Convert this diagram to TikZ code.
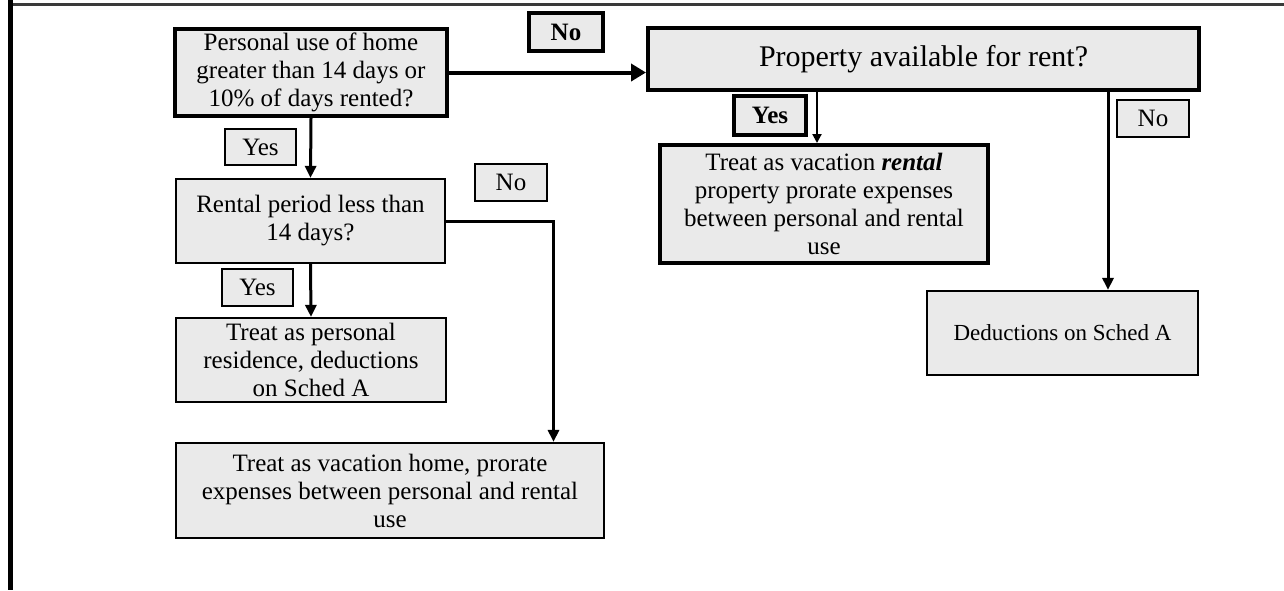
\documentclass[tikz,border=0pt]{standalone}
\usepackage{fontspec}
\setmainfont{Liberation Serif}
\usepackage{xcolor}
\usetikzlibrary{arrows.meta}

\definecolor{boxgray}{HTML}{EAEAEA}
\definecolor{framegray}{HTML}{3A3A3A}

\tikzset{
    box/.style={draw=black, fill=boxgray, line width=0.85pt, inner sep=0pt,
        align=center, font=\fontsize{12.5}{14}\selectfont},
    keybox/.style={box, line width=2pt},
    keytag/.style={keybox, font=\fontsize{12.5}{14}\selectfont\bfseries},
    conn/.style={line width=1.5pt, -{Triangle[length=6pt,width=5.5pt]}},
}

\begin{document}
\begin{tikzpicture}[x=0.5pt, y=-0.5pt]
    \useasboundingbox (0,0) rectangle (1284,590);
    \draw[framegray, line width=1.5pt] (8,4) -- (1284,4);
    \draw[black, line width=2.25pt] (10.3,0) -- (10.3,590);

    \node[keybox, minimum width=136pt, minimum height=43.5pt] (use) at (311,72.5)
        {Personal use of home\\greater than 14 days or\\10\% of days rented?};
    \node[keytag, minimum width=37pt, minimum height=19pt] (noUse) at (566,32) {No};
    \node[keybox, minimum width=275.5pt, minimum height=31pt,
        font=\fontsize{15}{16}\selectfont] (avail) at (923.5,59) {Property available for rent?};
    \node[keytag, minimum width=36pt, minimum height=19.5pt] (yesAvail) at (770,115.5) {Yes};
    \node[keybox, minimum width=164pt, minimum height=59pt] (rental) at (824,204)
        {Treat as vacation \textbf{\textit{rental}}\\property prorate expenses\\between personal and rental\\use};
    \node[box, minimum width=36.25pt, minimum height=18.75pt] (noAvail) at (1153,118.5) {No};
    \node[box, minimum width=135.75pt, minimum height=42.25pt,
        font=\fontsize{11.5}{13}\selectfont] (schedA) at (1062.5,333) {Deductions on Sched A};

    \node[box, minimum width=35.75pt, minimum height=18.25pt] (yesUse) at (260.5,147) {Yes};
    \node[box, minimum width=134.75pt, minimum height=42.25pt] (period) at (310.5,221)
        {Rental period less than\\14 days?};
    \node[box, minimum width=36.25pt, minimum height=18.75pt] (noPeriod) at (511,182.5) {No};
    \node[box, minimum width=35.75pt, minimum height=18.75pt] (yesPeriod) at (257.5,287.5) {Yes};
    \node[box, minimum width=135.25pt, minimum height=42.25pt] (resid) at (311,360)
        {Treat as personal\\residence, deductions\\on Sched A};
    \node[box, minimum width=214.25pt, minimum height=47.75pt] (vhome) at (390,490.5)
        {Treat as vacation home, prorate\\expenses between personal and rental\\use};

    \coordinate (rentalIn) at ([xshift=-3.5pt]rental.north);
    \coordinate (schedIn) at ([xshift=22.75pt]schedA.north);
    \coordinate (vhomeIn) at ([xshift=-25.8pt]vhome.north east);

    \draw[line width=2pt, -{Triangle[length=7.5pt,width=8.5pt]}] (use.east) -- (use.east -| avail.west);
    \draw[conn] (use.south) -- (period.north);
    \draw[conn] (period.south) -- (resid.north);
    \draw[conn] (period.east) -| (vhomeIn);
    \draw[line width=1pt, -{Triangle[length=4.5pt,width=4.5pt]}] (avail.south -| rentalIn) -- (rentalIn);
    \draw[conn] (avail.south -| schedIn) -- (schedIn);
\end{tikzpicture}
\end{document}
